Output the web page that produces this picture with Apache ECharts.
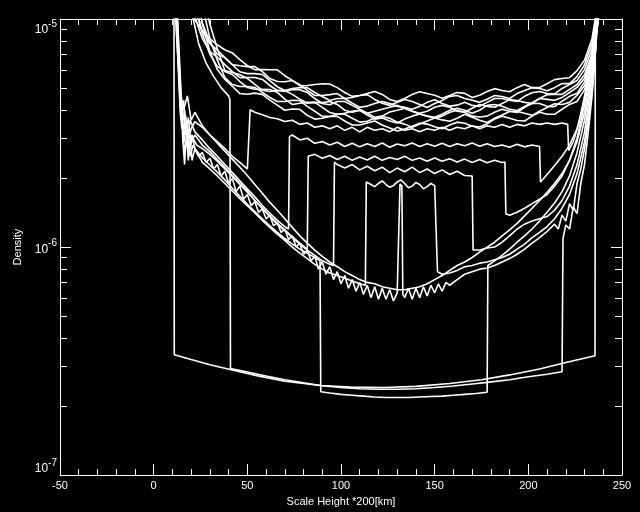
<!DOCTYPE html>
<html><head><meta charset="utf-8">
<script src="https://cdn.jsdelivr.net/npm/echarts/dist/echarts.min.js"></script>
<style>html,body{margin:0;padding:0;background:#000}#c{width:640px;height:512px}</style>
</head><body><div id="c"></div>
<script>
// ---- data (density values in units of 1e-6) ----
const UNIT = 1e-6;
const xTickMin = -50, xTickMax = 250, xTickStep = 50;
const yMin = 1e-7, yMax = 1e-5;
const logMantissas = [2,3,4,5,6,7,8,9];
const logDecades = [1e-7, 1e-6];

const bandX = [10,14,18,22,26,30,34,38,42,46,50,54,58,62,66,70,74,78,82,86,90,94,98,102,106,110,114,118,122,126,130,134,138,142,146,150,154,158,162,166,170,174,178,182,186,190,194,198,202,206,210,214,218,222,226,230,234,238];
const band1 = [30,20,12,9.9,8.9,8.2,7.7,7.33,7.10,6.63,6.24,6.00,6.00,5.99,5.99,5.64,5.38,5.10,5.11,5.16,5.20,5.19,5.00,4.76,4.58,4.62,4.71,4.81,4.67,4.44,4.35,4.48,4.67,4.80,4.71,4.63,4.49,4.62,4.76,4.72,4.53,4.63,4.81,4.95,4.86,4.80,5.00,5.16,5.00,5.01,5.20,5.42,5.48,5.53,5.94,6.6,8.2,13];
const band2 = [30,25,16,11,8.8,7.8,7.3,6.77,6.31,6.24,6.18,6.18,5.88,5.48,5.32,5.31,5.37,5.15,4.86,4.62,4.62,4.66,4.71,4.48,4.53,4.62,4.66,4.44,4.27,4.18,4.31,4.44,4.35,4.22,4.09,4.26,4.39,4.58,4.62,4.48,4.40,4.31,4.45,4.62,4.57,4.48,4.71,4.86,5.00,4.96,4.85,5.00,5.21,5.21,5.59,6.3,7.8,12];
const band3 = [30,30,22,14,9.6,7.9,7.0,6.77,6.30,5.87,5.76,5.76,5.71,5.37,5.05,4.86,4.96,5.00,5.00,4.76,4.57,4.39,4.48,4.48,4.27,4.10,4.15,4.26,4.35,4.26,4.14,4.10,4.02,4.14,4.31,4.43,4.26,4.15,4.19,4.31,4.18,4.14,4.31,4.48,4.48,4.40,4.35,4.58,4.75,4.81,4.71,4.70,4.96,5.16,5.37,6.0,7.4,12];
const band4 = [30,22,14,10.2,8.2,7.2,6.8,6.31,5.88,5.53,5.54,5.54,5.43,5.11,4.86,4.81,4.91,4.90,4.76,4.48,4.26,4.21,4.35,4.35,4.18,4.02,3.86,3.94,4.02,4.10,4.18,4.06,3.94,3.86,3.94,4.10,4.18,4.10,3.94,3.90,4.06,4.22,4.14,4.10,4.26,4.43,4.39,4.31,4.26,4.48,4.66,4.67,4.67,4.91,5.16,5.7,7.0,11];
const band5 = [30,30,30,20,13,9.5,7.4,5.95,5.83,5.70,5.49,5.17,4.87,4.81,4.87,4.86,4.67,4.45,4.27,4.31,4.30,4.35,4.22,3.98,3.90,3.98,3.86,3.71,3.75,3.91,3.98,4.06,3.94,3.83,3.75,3.71,3.82,3.98,4.06,3.98,3.86,3.98,4.18,4.22,4.14,4.02,3.97,4.14,4.30,4.48,4.44,4.40,4.53,4.76,5.01,5.5,6.8,11];
const band6 = [30,28,18,12,8.6,7.0,6.2,5.89,5.71,5.32,5.01,4.92,4.92,4.91,4.77,4.45,4.22,4.27,4.31,4.31,4.10,3.89,3.82,3.86,3.94,3.98,3.79,3.64,3.68,3.57,3.50,3.64,3.75,3.83,3.75,3.67,3.75,3.90,3.98,3.90,3.75,3.72,3.75,3.90,4.02,3.94,3.89,4.10,4.26,4.26,4.14,4.13,4.36,4.58,4.72,5.3,6.6,11];
const band7 = [30,30,25,17,11.5,8.2,6.6,5.54,5.16,5.06,5.06,5.01,4.77,4.53,4.35,4.35,4.40,4.39,4.14,3.94,3.74,3.74,3.82,3.82,3.67,3.53,3.56,3.68,3.74,3.67,3.53,3.46,3.35,3.46,3.57,3.68,3.61,3.56,3.67,3.82,3.71,3.60,3.52,3.67,3.79,3.93,3.93,3.86,3.78,3.94,4.09,4.25,4.22,4.31,4.63,5.1,6.3,11];
const band8 = [30,30,20,14,9.5,7.2,6.0,5.44,5.07,4.71,4.68,4.73,4.67,4.41,4.19,3.98,4.03,4.02,3.78,3.64,3.67,3.74,3.74,3.57,3.43,3.43,3.50,3.57,3.43,3.33,3.23,3.29,3.39,3.49,3.46,3.37,3.30,3.43,3.53,3.49,3.39,3.36,3.47,3.64,3.75,3.67,3.59,3.57,3.75,3.90,3.82,3.82,4.02,4.22,4.35,4.9,6.0,11];

const step1 = [[10,30],[12,9.0],[14,4.9],[16,4.0],[18,4.6],[20,3.6],[22,3.9],[26,3.4],[30,3.1],[34,2.9],[38,2.7],[42,2.5],[46,2.35],[50,2.2],[51,2.2],[51.5,4.0],[54,3.9],[58,3.8],[62,3.7],[66,3.65],[70,3.55],[74,3.6],[78,3.45],[82,3.5],[86,3.35],[90,3.4],[94,3.3],[98,3.4],[102,3.25],[106,3.35],[110,3.2],[114,3.35],[118,3.25],[122,3.3],[126,3.2],[130,3.35],[134,3.25],[138,3.3],[142,3.2],[146,3.3],[150,3.25],[154,3.35],[158,3.25],[162,3.35],[166,3.3],[170,3.4],[174,3.3],[178,3.4],[182,3.35],[186,3.45],[190,3.35],[194,3.45],[198,3.4],[202,3.5],[206,3.45],[210,3.5],[214,3.45],[218,3.5],[221,3.45],[221.5,2.65],[224,2.9],[227,3.5],[230,4.6],[234,7.0],[236,10],[237,30]];
const step2 = [[10,30],[12.5,8.0],[14,4.2],[15,3.3],[16.5,4.0],[18,3.0],[19.5,3.6],[22,3.2],[26,2.95],[30,2.7],[34,2.5],[38,2.3],[42,2.12],[46,1.95],[50,1.8],[54,1.66],[58,1.52],[62,1.41],[66,1.31],[70,1.23],[72,1.2],[72.5,3.05],[74,3.1],[78,2.95],[82,3.0],[86,2.85],[90,2.9],[94,2.8],[98,2.88],[102,2.76],[106,2.85],[110,2.75],[114,2.84],[118,2.76],[122,2.86],[126,2.74],[130,2.83],[134,2.78],[138,2.86],[142,2.76],[146,2.84],[150,2.77],[154,2.85],[158,2.76],[162,2.84],[166,2.78],[170,2.86],[174,2.77],[178,2.84],[182,2.76],[186,2.8],[190,2.74],[194,2.82],[198,2.75],[202,2.8],[206,2.76],[206.5,1.93],[210,2.08],[214,2.28],[218,2.5],[222,2.8],[226,3.3],[230,4.4],[234,6.5],[236,9.5],[237.5,30]];
const step3 = [[10,30],[13,7.0],[14.5,3.6],[16,4.4],[17,3.1],[18.5,3.7],[20,2.9],[22,3.1],[26,2.8],[30,2.62],[34,2.42],[38,2.24],[42,2.06],[46,1.9],[50,1.76],[54,1.6],[58,1.48],[62,1.37],[66,1.27],[70,1.19],[74,1.11],[78,1.04],[82,0.98],[82.5,2.5],[86,2.55],[90,2.45],[94,2.52],[98,2.42],[102,2.5],[106,2.4],[110,2.48],[114,2.41],[118,2.5],[122,2.4],[126,2.47],[130,2.42],[134,2.5],[138,2.4],[142,2.46],[146,2.38],[150,2.46],[154,2.38],[158,2.44],[162,2.36],[166,2.43],[170,2.35],[174,2.42],[178,2.34],[182,2.4],[186,2.35],[187.5,2.36],[188,1.4],[190,1.38],[194,1.42],[198,1.48],[202,1.55],[206,1.62],[210,1.7],[214,1.85],[218,2.05],[222,2.4],[226,3.0],[230,4.2],[234,6.5],[236.5,10],[238,30]];
const step4 = [[10,30],[13.5,6.0],[15,3.9],[16,3.0],[17.5,3.5],[19,2.7],[21,3.0],[23,2.8],[26,2.7],[30,2.55],[34,2.38],[38,2.2],[42,2.04],[46,1.88],[50,1.74],[54,1.6],[58,1.48],[62,1.36],[66,1.26],[70,1.18],[74,1.1],[78,1.03],[82,0.97],[86,0.92],[90,0.87],[94,0.84],[96,0.83],[96.5,2.36],[98,2.3],[102,2.22],[106,2.3],[110,2.18],[114,2.26],[118,2.16],[122,2.24],[126,2.12],[130,2.22],[134,2.14],[138,2.24],[142,2.12],[146,2.2],[150,2.1],[154,2.18],[158,2.08],[162,2.15],[166,2.06],[170,2.05],[170.5,0.97],[174,0.97],[178,0.99],[182,1.0],[186,1.05],[190,1.12],[194,1.2],[198,1.26],[202,1.3],[206,1.33],[210,1.36],[214,1.45],[218,1.6],[222,1.85],[226,2.3],[230,3.2],[234,5.5],[237,10],[238.5,30]];
const step5 = [[10,30],[14,5.5],[15.5,3.3],[16.5,2.6],[18,3.1],[19.5,2.5],[21,2.8],[23,2.6],[26,2.35],[30,2.2],[34,2.05],[38,1.9],[42,1.76],[46,1.63],[50,1.52],[54,1.41],[58,1.31],[62,1.22],[66,1.14],[70,1.07],[74,1.0],[78,0.94],[82,0.89],[86,0.84],[90,0.8],[94,0.77],[98,0.75],[102,0.73],[106,0.71],[110,0.69],[113,0.68],[113.5,1.93],[116,1.88],[118,1.84],[120,1.9],[122,1.95],[124,1.88],[126,1.83],[128,1.86],[130,1.93],[132,1.97],[134,1.9],[136,1.82],[138,1.85],[140,1.92],[142,1.88],[144,1.8],[146,1.84],[148,1.9],[150,1.86],[151,1.85],[151.5,0.78],[154,0.76],[158,0.77],[162,0.79],[166,0.82],[170,0.83],[174,0.85],[178,0.86],[182,0.88],[186,0.9],[190,0.93],[194,0.98],[198,1.03],[202,1.1],[206,1.16],[210,1.23],[214,1.33],[218,1.48],[222,1.7],[226,2.1],[230,2.9],[234,5.0],[237,9.5],[238.5,30]];
const step6 = [[10,30],[14.5,5.0],[15.5,3.0],[16.5,2.3],[17.5,3.2],[18.5,2.4],[19.5,3.0],[20.5,2.4],[22,2.7],[24,2.5],[26,2.6],[28,2.35],[30,2.45],[32,2.2],[34,2.3],[36,2.05],[38,2.15],[40,1.9],[42,2.0],[44,1.75],[46,1.85],[48,1.62],[50,1.7],[52,1.52],[54,1.58],[56,1.42],[58,1.47],[60,1.33],[62,1.38],[64,1.24],[66,1.28],[68,1.16],[70,1.2],[72,1.08],[74,1.12],[76,1.0],[78,1.04],[80,0.93],[82,0.97],[84,0.87],[86,0.91],[88,0.8],[90,0.86],[92,0.76],[94,0.82],[96,0.72],[98,0.78],[100,0.69],[102,0.75],[104,0.66],[106,0.72],[108,0.64],[110,0.7],[112,0.62],[114,0.68],[116,0.6],[118,0.67],[120,0.59],[122,0.66],[124,0.59],[126,0.65],[128,0.58],[130,0.63],[131,0.62],[131.5,1.89],[132.5,1.85],[133,0.62],[134,0.6],[136,0.66],[138,0.59],[140,0.66],[142,0.6],[144,0.67],[146,0.61],[148,0.68],[150,0.63],[152,0.69],[154,0.64],[156,0.7],[158,0.68],[162,0.72],[166,0.76],[170,0.78],[174,0.8],[178,0.81],[182,0.83],[186,0.86],[190,0.89],[194,0.93],[198,0.98],[202,1.04],[206,1.1],[210,1.17],[214,1.26],[216,1.2],[218,1.38],[220,1.3],[222,1.55],[224,1.45],[226,1.9],[228,2.2],[230,2.7],[232,3.5],[234,4.8],[236,7.5],[238,30]];
const lowFull = [[10,30],[13,7.5],[14.5,4.0],[16,3.2],[17,3.8],[18.5,2.9],[20,3.3],[22,3.55],[26,3.35],[30,3.1],[34,2.85],[38,2.63],[42,2.43],[46,2.24],[50,2.06],[54,1.88],[58,1.72],[62,1.57],[66,1.45],[70,1.33],[74,1.22],[78,1.12],[82,1.04],[86,0.97],[90,0.91],[94,0.86],[98,0.82],[102,0.78],[106,0.75],[110,0.72],[114,0.7],[118,0.69],[122,0.67],[126,0.66],[130,0.65],[134,0.65],[138,0.66],[142,0.67],[146,0.69],[150,0.72],[154,0.75],[158,0.79],[162,0.83],[166,0.86],[170,0.9],[174,0.95],[178,1.0],[182,1.05],[186,1.12],[190,1.19],[194,1.27],[198,1.37],[202,1.48],[206,1.6],[210,1.74],[214,1.9],[218,2.1],[222,2.4],[226,2.9],[230,3.9],[234,6.0],[236,8.9],[237.5,30]];
const floor1 = [[10.8,30],[11,0.337],[20,0.321],[30,0.305],[42,0.289],[55,0.273],[70,0.258],[89,0.247],[105,0.243],[123,0.242],[140,0.245],[158,0.252],[175,0.262],[190,0.275],[206,0.292],[220,0.312],[235.6,0.334],[235.8,30]];
const floor2 = [[10,30],[16,20],[20,11],[24,7.8],[28,6.4],[32,5.6],[36,5.0],[40,4.6],[40.7,4.45],[41,0.293],[50,0.283],[60,0.272],[70,0.262],[80,0.254],[89,0.247],[100,0.242],[110,0.239],[120,0.238],[130,0.238],[140,0.239],[150,0.242],[160,0.246],[170,0.251],[178,0.255],[190,0.262],[200,0.27],[210,0.277],[218,0.284],[218.5,1.09],[220,1.25],[222,1.2],[224,1.5],[226,1.4],[228,1.9],[230,2.3],[232,3.2],[234,4.6],[236,7.5],[238,30]];
const floor3 = [[10,30],[13.2,7.0],[14.8,3.7],[16.2,2.9],[17.2,3.5],[18.8,2.7],[20.5,3.1],[22,2.7],[26,2.46],[30,2.29],[34,2.13],[38,1.97],[42,1.81],[46,1.67],[50,1.54],[54,1.43],[58,1.33],[62,1.24],[66,1.16],[70,1.09],[74,1.03],[78,0.98],[82,0.94],[86,0.9],[88.8,0.87],[89.2,0.232],[94,0.229],[100,0.226],[106,0.224],[112,0.222],[118,0.22],[124,0.219],[130,0.219],[136,0.219],[142,0.22],[148,0.221],[154,0.222],[160,0.224],[166,0.226],[172,0.228],[178,0.231],[178.4,0.83],[182,0.87],[186,0.92],[190,0.98],[194,1.05],[198,1.12],[202,1.2],[206,1.3],[210,1.42],[214,1.56],[218,1.75],[222,2.05],[226,2.6],[230,3.6],[234,5.8],[236.5,9.5],[238,30]];

// ---- build ----
const bands = [band1,band2,band3,band4,band5,band6,band7,band8];
const pairSets = [step1,step2,step3,step4,step5,step6,lowFull,floor1,floor2,floor3];
const allSeries = [];
const lineStyle = {color:'#ffffff', width:1.6};
bands.forEach(b => allSeries.push(bandX.map((x,i)=>[x, b[i]*UNIT])));
pairSets.forEach(p => allSeries.push(p.map(d=>[d[0], d[1]*UNIT])));

const FONT = 'Liberation Sans';
const axisCommonX = {
  type:'value', min:xTickMin, max:xTickMax, interval:xTickStep,
  axisLine:{show:true, onZero:false, lineStyle:{color:'#fff', width:1}},
  axisTick:{show:true, inside:true, length:11, lineStyle:{color:'#fff'}},
  minorTick:{show:true, splitNumber:5, length:6, lineStyle:{color:'#fff'}},
  splitLine:{show:false}, minorSplitLine:{show:false}
};
const axisCommonY = {
  type:'log', logBase:10, min:yMin, max:yMax,
  axisLine:{show:true, onZero:false, lineStyle:{color:'#fff', width:1}},
  axisTick:{show:true, inside:true, length:11, lineStyle:{color:'#fff'}},
  splitLine:{show:false}
};

const option = {
  animation:false,
  backgroundColor:'#000',
  grid:{left:60, right:18, top:19, bottom:34},
  xAxis:[
    Object.assign({}, axisCommonX, {position:'bottom',
      axisLabel:{color:'#fff', fontFamily:FONT, fontSize:11, margin:5},
      name:'Scale Height *200[km]', nameLocation:'middle', nameGap:11,
      nameTextStyle:{color:'#fff', fontFamily:FONT, fontSize:11}}),
    Object.assign({}, axisCommonX, {position:'top', axisLabel:{show:false}})
  ],
  yAxis:[
    Object.assign({}, axisCommonY, {position:'left',
      axisLabel:{color:'#fff', margin:3,
        verticalAlignMinLabel:'bottom', verticalAlignMaxLabel:'top',
        formatter:v=>{const e=Math.round(Math.log10(v));return '{b|10}{s|'+(e<0?'-':'')+Math.abs(e)+'}';},
        rich:{b:{fontFamily:FONT, fontSize:12, color:'#fff', lineHeight:17, verticalAlign:'bottom'},
              s:{fontFamily:FONT, fontSize:10, color:'#fff', lineHeight:10, verticalAlign:'top'}}},
      name:'Density', nameLocation:'middle', nameRotate:90, nameGap:36,
      nameTextStyle:{color:'#fff', fontFamily:FONT, fontSize:11}}),
    Object.assign({}, axisCommonY, {position:'right', axisLabel:{show:false}})
  ],
  series: allSeries.map(d=>({type:'line', data:d, showSymbol:false, symbol:'none', clip:true,
    lineStyle:lineStyle, silent:true, xAxisIndex:0, yAxisIndex:0}))
};

const chart = echarts.init(document.getElementById('c'));
chart.setOption(option);

// log minor ticks placed through the axis scale
const px0 = chart.convertToPixel({xAxisIndex:0}, xTickMin);
const px1 = chart.convertToPixel({xAxisIndex:0}, xTickMax);
const g = [];
logDecades.forEach(d => logMantissas.forEach(m => {
  const py = Math.round(chart.convertToPixel({yAxisIndex:0}, m*d)) + 0.5;
  g.push({type:'line', silent:true, shape:{x1:px0, y1:py, x2:px0+7, y2:py}, style:{stroke:'#fff', lineWidth:1}});
  g.push({type:'line', silent:true, shape:{x1:px1-7, y1:py, x2:px1, y2:py}, style:{stroke:'#fff', lineWidth:1}});
}));
chart.setOption({graphic:g});
</script>
</body></html>
